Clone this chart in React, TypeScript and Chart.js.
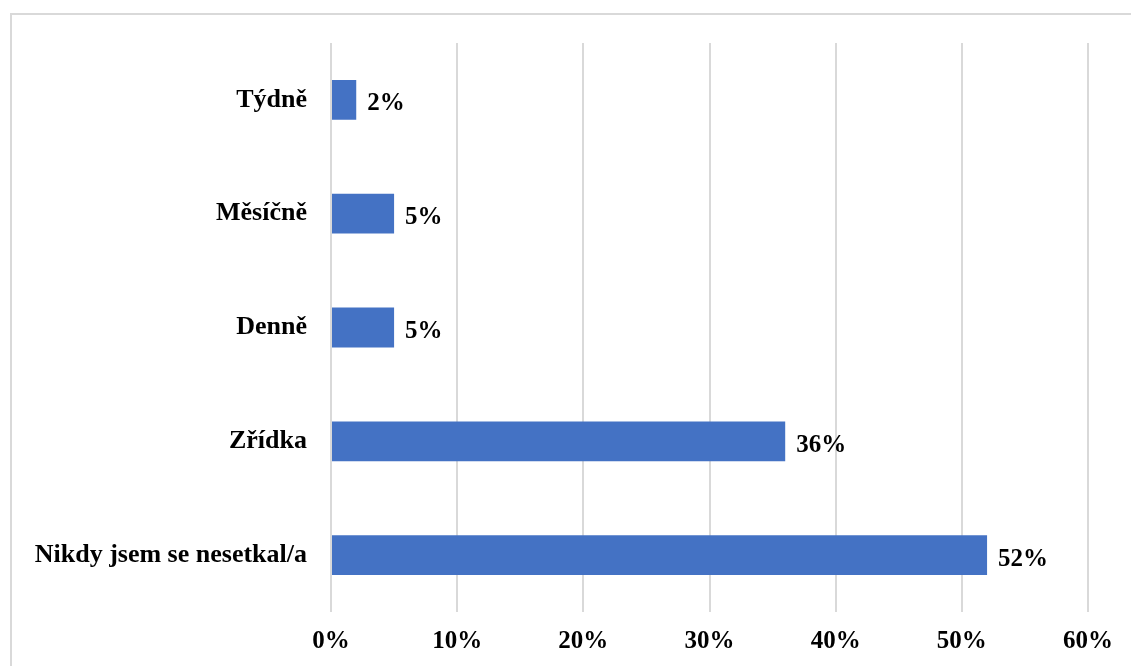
import React, { useEffect, useRef } from "react";
import { Chart, registerables } from "chart.js";

Chart.register(...registerables);

const categories = ["Týdně", "Měsíčně", "Denně", "Zřídka", "Nikdy jsem se nesetkal/a"];
const values = [2, 5, 5, 36, 52];
const xTicks = [0, 10, 20, 30, 40, 50, 60];

const FONT = "'Liberation Serif', 'Times New Roman', serif";

const borderPlugin = {
  id: "outerBorder",
  beforeDraw(chart: any) {
    const ctx = chart.ctx;
    ctx.save();
    ctx.fillStyle = "#ffffff";
    ctx.fillRect(0, 0, chart.width, chart.height);
    ctx.strokeStyle = "#d9d9d9";
    ctx.lineWidth = 2;
    ctx.strokeRect(11, 14, chart.width + 20, chart.height + 20);
    ctx.restore();
  },
};

const labelPlugin = {
  id: "barLabels",
  afterDatasetsDraw(chart: any) {
    const ctx = chart.ctx;
    const meta = chart.getDatasetMeta(0);
    ctx.save();
    ctx.fillStyle = "#000000";
    ctx.font = `bold 25px ${FONT}`;
    ctx.textAlign = "left";
    ctx.textBaseline = "middle";
    meta.data.forEach((bar: any, i: number) => {
      ctx.fillText(`${values[i]}%`, bar.x + 11, bar.y + 4);
    });
    ctx.restore();
  },
};

export default function App() {
  const ref = useRef<HTMLCanvasElement | null>(null);
  useEffect(() => {
    document.body.style.margin = "0";
    const canvas = ref.current;
    if (!canvas) return;
    const chart = new Chart(canvas, {
      type: "bar",
      data: {
        labels: categories,
        datasets: [
          {
            data: values,
            backgroundColor: "#4472C4",
            borderWidth: 0,
            categoryPercentage: 1,
            barPercentage: 0.35,
          },
        ],
      },
      options: {
        indexAxis: "y",
        animation: false,
        responsive: false,
        maintainAspectRatio: false,
        layout: { padding: { top: 43, right: 43, left: 0, bottom: 0 } },
        plugins: { legend: { display: false }, tooltip: { enabled: false } },
        scales: {
          x: {
            min: 0,
            max: 60,
            afterBuildTicks(scale: any) {
              scale.ticks = xTicks.map((v) => ({ value: v }));
            },
            afterFit(scale: any) {
              scale.height = 54;
            },
            grid: { color: "#d9d9d9", lineWidth: 2, drawTicks: false },
            border: { display: false },
            ticks: {
              padding: 15,
              color: "#000000",
              font: { family: FONT, size: 25, weight: "bold" },
              callback: (v: any) => `${v}%`,
            },
          },
          y: {
            afterFit(scale: any) {
              scale.width = 331;
            },
            grid: { display: false, drawTicks: false },
            border: { display: false },
            ticks: {
              padding: 24,
              color: "#000000",
              font: { family: FONT, size: 26, weight: "bold" },
            },
          },
        },
      },
      plugins: [borderPlugin, labelPlugin],
    } as any);
    return () => chart.destroy();
  }, []);
  return <canvas ref={ref} width={1131} height={666} style={{ display: "block" }} />;
}
